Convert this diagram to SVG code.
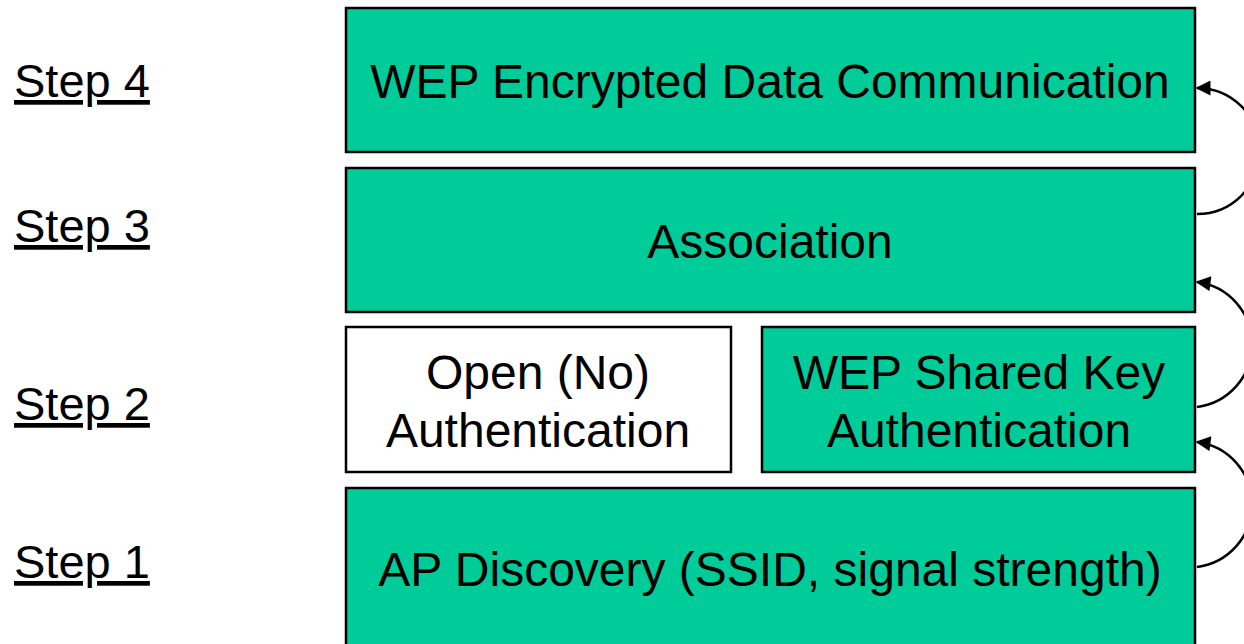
<svg xmlns="http://www.w3.org/2000/svg" width="1244" height="644" viewBox="0 0 1244 644">
<defs>
<style>
.box{fill:#00CC99;stroke:#000;stroke-width:2.5}
.wbox{fill:#fff;stroke:#000;stroke-width:2.5}
.t{font-family:"Liberation Sans",Arial,sans-serif;font-size:48px;fill:#000;text-anchor:middle}
.s{font-family:"Liberation Sans",Arial,sans-serif;font-size:47px;fill:#000;text-decoration:underline}
.c{fill:none;stroke:#000;stroke-width:2.5}
</style>
<marker id="ah" viewBox="0 0 10 10" refX="9" refY="5" markerWidth="7" markerHeight="6" orient="auto" markerUnits="strokeWidth">
<path d="M0,0 L10,5 L0,10 z" fill="#000"/>
</marker>
</defs>
<rect width="1244" height="644" fill="#fff"/>
<g id="labels">
<text class="s" x="14" y="97">Step 4</text>
<text class="s" x="14" y="242">Step 3</text>
<text class="s" x="14" y="420">Step 2</text>
<text class="s" x="14" y="578">Step 1</text>
</g>
<g id="step4">
<rect class="box" x="346" y="8" width="849" height="144"/>
<text class="t" x="770" y="98">WEP Encrypted Data Communication</text>
</g>
<g id="step3">
<rect class="box" x="346" y="168" width="849" height="144"/>
<text class="t" x="770" y="258">Association</text>
</g>
<g id="open">
<rect class="wbox" x="346" y="327" width="385" height="145"/>
<text class="t" x="538" y="389">Open (No)</text>
<text class="t" x="538" y="447">Authentication</text>
</g>
<g id="shared">
<rect class="box" x="762" y="327" width="433" height="145"/>
<text class="t" x="979" y="389">WEP Shared Key</text>
<text class="t" x="979" y="447">Authentication</text>
</g>
<g id="step1">
<rect class="box" x="346" y="488" width="849" height="170"/>
<text class="t" x="770" y="586">AP Discovery (SSID, signal strength)</text>
</g>
<g id="connectors">
<path class="c" d="M1197,214 A63,63 0 0 0 1197,88" marker-end="url(#ah)"/>
<path class="c" d="M1197,407 A63,63 0 0 0 1197,282" marker-end="url(#ah)"/>
<path class="c" d="M1197,567 A63,63 0 0 0 1197,442" marker-end="url(#ah)"/>
</g>
</svg>
